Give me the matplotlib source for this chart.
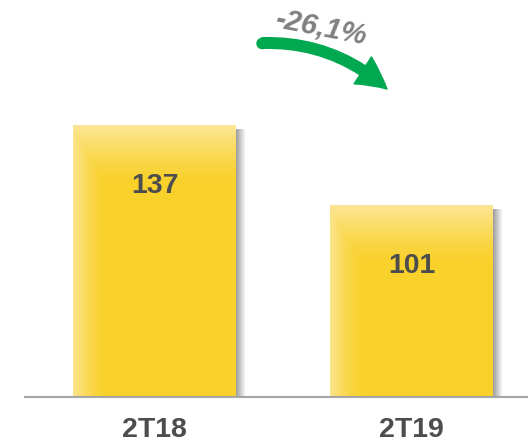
import numpy as np
import matplotlib
matplotlib.use('Agg')
import matplotlib.pyplot as plt
from matplotlib.patches import FancyArrowPatch, Circle
from matplotlib.colors import to_rgb

# data
categories = ['2T18', '2T19']
values = [137, 101]
change_label = '-26,1%'

plt.rcParams['font.family'] = ['Liberation Sans', 'DejaVu Sans']

W, H = 528, 443
fig = plt.figure(figsize=(W / 100, H / 100), dpi=100)
ax = fig.add_axes([25 / W, (H - 397) / H, 503 / W, 397 / H])
ymin, ymax = 14.6, 193.4
ax.set_xlim(-0.504, 1.453)
ax.set_ylim(ymin, ymax)
ax.axis('off')

x = np.arange(len(categories))
bar_w = 0.634
main = np.array(to_rgb('#F9D12B'))
light = np.array(to_rgb('#FCE695'))

bars = ax.bar(x, values, width=bar_w, color='#F9D12B', zorder=2)

# gradient fill inside each bar (lighter top and left edge)
for rect in bars:
    left = rect.get_x()
    right, top = left + rect.get_width(), rect.get_height()
    ny, nx = 200, 100
    ys = np.linspace(top, ymin, ny)[:, None]
    xs = np.linspace(left, right, nx)[None, :]
    t = np.clip((top - ys) / 26.0, 0, 1)
    s = np.clip((xs - left) / 0.13, 0, 1)
    amt = np.maximum((1 - t) ** 1.3, (1 - s) ** 1.5 * 0.9)
    img = main + (light - main) * amt[..., None]
    ax.imshow(img, extent=[left, right, ymin, top], aspect='auto',
              zorder=3, interpolation='bilinear')

    # soft shadow on the right side
    sw = 9 / 257
    shade = np.zeros((2, 30, 4))
    shade[..., :3] = 0.45
    shade[..., 3] = np.linspace(0.7, 0, 30)[None, :]
    ax.imshow(shade, extent=[right, right + sw, ymin, top - 2],
              aspect='auto', zorder=1, interpolation='bilinear')

ax.set_xlim(-0.504, 1.453)
ax.set_ylim(ymin, ymax)

# baseline
ax.axhline(ymin, color='#A6A6A6', lw=1.5, zorder=4, clip_on=False)

# value labels and category labels
for xi, v, c in zip(x, values, categories):
    ax.annotate(str(v), (xi, v), xytext=(0, -61), textcoords='offset pixels',
                ha='center', va='center', fontsize=20.5, fontweight='bold',
                color='#4D4D4D', zorder=5)
    ax.annotate(c, (xi, ymin), xytext=(0, -33), textcoords='offset pixels',
                ha='center', va='center', fontsize=20.5, fontweight='bold',
                color='#4D4D4D', annotation_clip=False)

# curved green arrow with the change
green = '#00A850'
arrow = FancyArrowPatch((262 / W, 1 - 43 / H), (387 / W, 1 - 89 / H),
                        transform=fig.transFigure,
                        connectionstyle='arc3,rad=-0.2',
                        arrowstyle='simple,head_width=1.15,head_length=1.1,tail_width=0.38',
                        mutation_scale=20, color=green, shrinkA=0, shrinkB=0)
fig.patches.append(arrow)
fig.patches.append(Circle((262, H - 43.5), 5, transform=None, color=green))
fig.text(321 / W, 1 - 28 / H, change_label, ha='center', va='center',
         rotation=-11, fontsize=21, fontweight='bold', fontstyle='italic',
         color='#808080')

fig.savefig('out.png', dpi=100)
